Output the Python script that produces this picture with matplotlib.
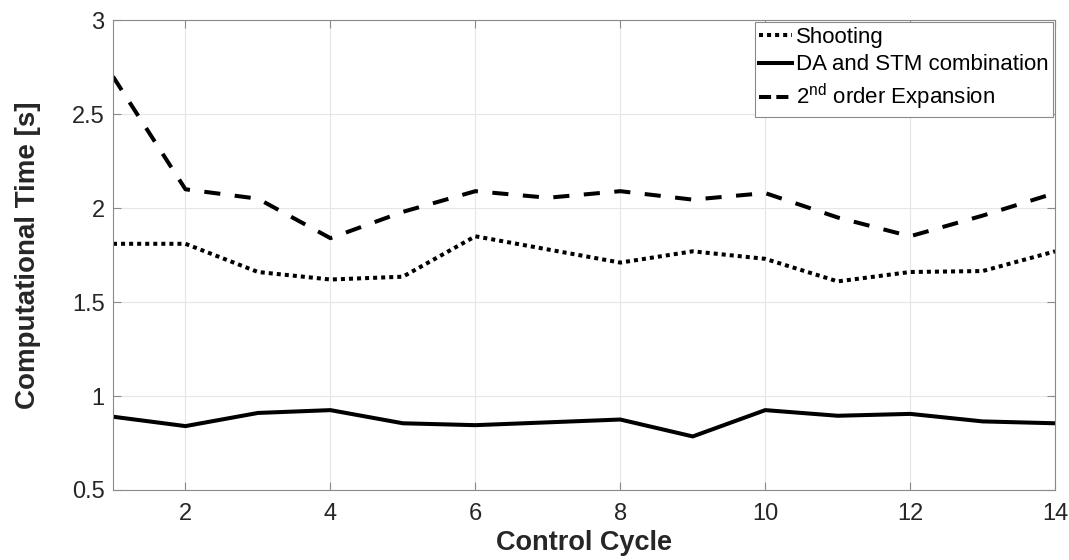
import matplotlib
matplotlib.use('Agg')
import matplotlib.pyplot as plt

plt.rcParams['font.family'] = ['Liberation Sans', 'DejaVu Sans']
plt.rcParams['mathtext.fontset'] = 'custom'
plt.rcParams['mathtext.rm'] = 'Liberation Sans'
plt.rcParams['mathtext.it'] = 'Liberation Sans'

# Data
cycles = [1, 2, 3, 4, 5, 6, 7, 8, 9, 10, 11, 12, 13, 14]
shooting = [1.81, 1.81, 1.66, 1.62, 1.635, 1.85, 1.78, 1.71, 1.77, 1.73, 1.61, 1.66, 1.665, 1.77]
da_stm = [0.89, 0.84, 0.91, 0.925, 0.855, 0.845, 0.86, 0.875, 0.785, 0.925, 0.895, 0.905, 0.865, 0.855]
second_order = [2.70, 2.10, 2.05, 1.84, 1.98, 2.09, 2.055, 2.09, 2.045, 2.08, 1.95, 1.85, 1.96, 2.08]

fig = plt.figure(figsize=(10.69, 5.6), dpi=100)
ax = fig.add_axes([0.1057, 0.125, 0.8813, 0.839])

lw = 2.9
ax.plot(cycles, shooting, color='k', linewidth=lw, linestyle=(0, (1, 1)), label='Shooting')
ax.plot(cycles, da_stm, color='k', linewidth=lw, linestyle='-', label='DA and STM combination')
ax.plot(cycles, second_order, color='k', linewidth=lw, linestyle=(0, (4, 3.6)),
        label=r'2$^{\mathrm{nd}}$ order Expansion')

ax.set_xlim(1, 14)
ax.set_ylim(0.5, 3)
ax.set_xticks([2, 4, 6, 8, 10, 12, 14])
ax.set_yticks([0.5, 1, 1.5, 2, 2.5, 3])
ax.set_yticklabels(['0.5', '1', '1.5', '2', '2.5', '3'])

ax.grid(True, color='#e6e6e6', linewidth=0.8)
ax.set_axisbelow(True)
for s in ax.spines.values():
    s.set_color('#8a8a8a')
    s.set_linewidth(0.8)
ax.tick_params(direction='in', length=6, width=0.8, color='#8a8a8a', labelcolor='#262626',
               labelsize=17, top=True, right=True)
ax.tick_params(axis='x', pad=9)
ax.tick_params(axis='y', pad=6)

ax.set_xlabel('Control Cycle', fontsize=19.5, fontweight='bold', color='#262626', labelpad=4)
ax.set_ylabel('Computational Time [s]', fontsize=20, fontweight='bold', color='#262626', labelpad=22)

leg = ax.legend(loc='upper right', fontsize=16, frameon=True, fancybox=False,
                framealpha=1, edgecolor='#8a8a8a', handlelength=1.5, handletextpad=0.15,
                borderpad=0.2, labelspacing=0.3, borderaxespad=0.1)
leg.get_frame().set_linewidth(0.8)
# shorter dash pattern in the legend so two dashes fit, as in the original
leg.get_lines()[2].set_linestyle((0, (3, 1.3)))

fig.savefig('out.png', dpi=100)
